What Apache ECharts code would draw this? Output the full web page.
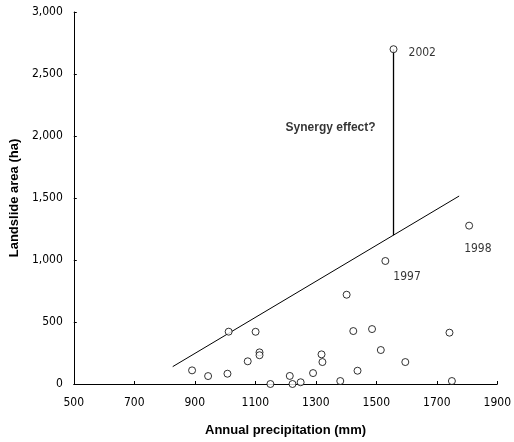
<!DOCTYPE html>
<html>
<head>
<meta charset="utf-8">
<script src="https://cdn.jsdelivr.net/npm/echarts@6/dist/echarts.min.js"></script>
<style>html,body{margin:0;padding:0;background:#fff}#c{width:514px;height:442px}</style>
</head>
<body>
<div id="c"></div>
<script>
// Observations: [annual precipitation (mm), landslide area (ha)]
var observations = [
  [891,110],[944,64],[1008,83],[1012,422],[1075,183],[1101,421],
  [1114,255],[1114,232],[1150,0],[1214,65],[1223,0],[1250,14],
  [1291,88],[1319,239],[1322,177],[1381,24],[1402,720],[1424,427],
  [1438,107],[1486,443],[1515,274],[1596,177],[1742,414],[1750,24]
];
var labeledYears = ['2002','1997','1998'];
var labeledPoints = [[1557,2700],[1530,992],[1807,1277]];
var trendLine = [[827,140],[1774,1516]];
var synergyLine = [[1557,1200],[1557,2700]];
var annotationText = 'Synergy effect?';
var annotationAnchor = [1349,2070];
var xTicks = {min:500, max:1900, interval:200};
var yTicks = {min:0, max:3000, interval:500};

var tickFont = "'Liberation Sans Narrow','Arial Narrow','DejaVu Sans Condensed',Arial,sans-serif";
var chart = echarts.init(document.getElementById('c'));
var labelOffsets = [[15,4],[8,16],[-5,23]];
chart.setOption({
  animation:false,
  backgroundColor:'#fff',
  grid:{left:73,right:12,top:12,bottom:58},
  xAxis:{
    type:'value', min:xTicks.min, max:xTicks.max, interval:xTicks.interval,
    name:'Annual precipitation (mm)', nameLocation:'middle', nameGap:40,
    nameTextStyle:{fontFamily:'Arial,sans-serif',fontWeight:'bold',fontSize:13,color:'#000'},
    axisLine:{lineStyle:{color:'#000',width:1}},
    axisTick:{inside:true,length:3,lineStyle:{color:'#000'}},
    axisLabel:{color:'#000',fontFamily:tickFont,fontSize:12,margin:13,
      formatter:function(v){return String(v);}},
    splitLine:{show:false}
  },
  yAxis:{
    type:'value', min:yTicks.min, max:yTicks.max, interval:yTicks.interval,
    name:'Landslide area (ha)', nameLocation:'middle', nameGap:52, nameRotate:90,
    nameTextStyle:{fontFamily:'Arial,sans-serif',fontWeight:'bold',fontSize:13,color:'#000'},
    axisLine:{show:true,lineStyle:{color:'#000',width:1}},
    axisTick:{show:true,inside:true,length:3,lineStyle:{color:'#000'}},
    axisLabel:{color:'#000',fontFamily:tickFont,fontSize:12,margin:11,
      formatter:function(v){return v.toString().replace(/\B(?=(\d{3})+(?!\d))/g, ',');}},
    splitLine:{show:false}
  },
  series:[
    {type:'line', data:trendLine, symbol:'none', lineStyle:{color:'#000',width:1}, z:2},
    {type:'line', data:synergyLine, symbol:'none', lineStyle:{color:'#000',width:1.3}, z:2},
    {type:'scatter', data:observations, symbol:'circle', symbolSize:7,
      itemStyle:{color:'#fff',borderColor:'#000',borderWidth:1}, z:3},
    {type:'scatter', symbol:'circle', symbolSize:7,
      itemStyle:{color:'#fff',borderColor:'#000',borderWidth:1}, z:3,
      data:labeledPoints.map(function(p,i){
        return {value:p, label:{show:true, formatter:labeledYears[i], position:'inside',
          align:'left', verticalAlign:'middle', offset:labelOffsets[i],
          color:'#000', fontFamily:tickFont, fontSize:12}};
      })},
    {type:'scatter', symbolSize:0, z:4, silent:true,
      data:[{value:annotationAnchor, label:{show:true, formatter:annotationText, position:'inside',
        color:'#000', fontFamily:'Arial,sans-serif', fontWeight:'bold', fontSize:12}}]}
  ]
});
</script>
</body>
</html>
